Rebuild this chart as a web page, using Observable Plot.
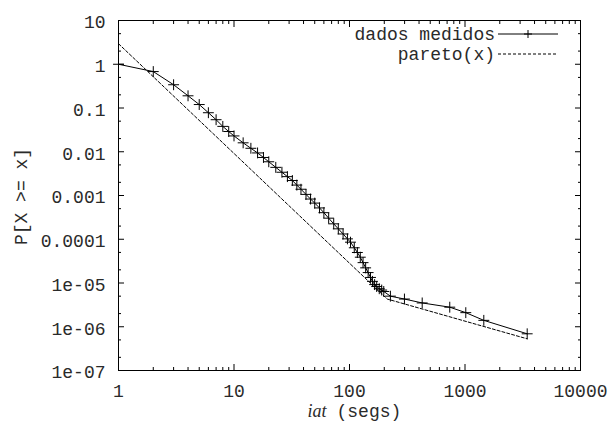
<!DOCTYPE html>
<html><head><meta charset="utf-8">
<script src="https://cdn.jsdelivr.net/npm/d3@7"></script>
<script src="https://cdn.jsdelivr.net/npm/@observablehq/plot@0.6"></script>
<style>body{margin:0;background:#fff} #chart{width:608px;height:427px}</style>
</head><body><div id="chart"></div>
<script>
// ---- data ----
const measuredX = [1,2,3,4,5,6,7,8,9,10,12,14,16,18,20,23,26,29,32,35,38,42,46,50,55,60,66,73,80,88,96,102,110,117,124,131,138,145,152,158,165,172,181,190,198,226,299,426,738,1016,1455,3455];
const measuredY = [1.0,0.68,0.34,0.19,0.12,0.078,0.054,0.038,0.029,0.023,0.016,0.012,0.0094,0.0074,0.0059,0.0044,0.0034,0.0027,0.0022,0.00173,0.00139,0.00106,0.00083,0.00067,0.00052,0.000405,0.000303,0.000225,0.000173,0.000132,0.000102,0.0000857,0.0000638,0.0000498,0.0000389,0.0000292,0.0000222,0.0000173,0.0000134,0.0000109,0.0000092,0.0000083,0.0000074,0.0000069,0.0000064,0.0000050,0.0000043,0.0000035,0.0000028,0.0000021,0.0000014,0.00000069];
const paretoX = [1, 212, 3455];
const paretoY = [2.95, 0.0000043, 0.00000053];
const seriesNames = ["dados medidos", "pareto(x)"];
const xTicks = [1, 10, 100, 1000, 10000];
const xTickLabels = ["1", "10", "100", "1000", "10000"];
const yTicks = [1e-7, 1e-6, 1e-5, 1e-4, 1e-3, 1e-2, 1e-1, 1, 10];
const yTickLabels = ["1e-07", "1e-06", "1e-05", "0.0001", "0.001", "0.01", "0.1", "1", "10"];
const xLabelItalic = "iat";
const xLabelRest = "(segs)";
const yLabel = "P[X >= x]";

// ---- derived tables ----
const measured = measuredX.map((x, i) => ({x, y: measuredY[i]}));
const pareto = paretoX.map((x, i) => ({x, y: paretoY[i]}));
const xLabelMap = new Map(xTicks.map((t, i) => [t, xTickLabels[i]]));
const yLabelMap = new Map(yTicks.map((t, i) => [t, yTickLabels[i]]));
const xMinor = [];
for (let e = 0; e < 4; e++) for (let m = 2; m <= 9; m++) xMinor.push(m * Math.pow(10, e));
const yMinor = [];
for (let e = -7; e < 1; e++) for (const m of [2, 5]) yMinor.push(m * Math.pow(10, e));

const W = 608, H = 427, mL = 118, mR = 28, mT = 20, mB = 57;
const mono = "'Liberation Mono', 'Courier New', monospace";
const MAJ = 6, MIN = 3;
const blank = () => "";
const textColor = "#2a2a2a";

const inTicksX = (ticks, size) => [
  Plot.axisX({ticks, anchor: "bottom", tickSize: size, dy: -size, tickFormat: blank, label: null}),
  Plot.axisX({ticks, anchor: "top", tickSize: size, dy: size, tickFormat: blank, label: null})
];
const inTicksY = (ticks, size) => [
  Plot.axisY({ticks, anchor: "left", tickSize: size, dx: size, tickFormat: blank, label: null}),
  Plot.axisY({ticks, anchor: "right", tickSize: size, dx: -size, tickFormat: blank, label: null})
];

const plot = Plot.plot({
  width: W, height: H,
  marginLeft: mL, marginRight: mR, marginTop: mT, marginBottom: mB,
  style: {fontFamily: mono, fontSize: "18px", background: "white", color: "black"},
  x: {type: "log", domain: [1, 10000]},
  y: {type: "log", domain: [1e-7, 10]},
  marks: [
    ...inTicksX(xTicks, MAJ),
    ...inTicksX(xMinor, MIN),
    ...inTicksY(yTicks, MAJ),
    ...inTicksY(yMinor, MIN),
    Plot.axisX({ticks: xTicks, anchor: "bottom", tickSize: 0, tickPadding: 14, tickFormat: d => xLabelMap.get(d), label: null, fill: textColor}),
    Plot.axisY({ticks: yTicks, anchor: "left", tickSize: 0, tickPadding: 13, dy: 2, tickFormat: d => yLabelMap.get(d), label: null, fill: textColor}),
    Plot.line(pareto, {x: "x", y: "y", stroke: "black", strokeWidth: 1, strokeDasharray: "3,2"}),
    Plot.line(measured, {x: "x", y: "y", stroke: "black", strokeWidth: 1}),
    Plot.dot(measured, {x: "x", y: "y", symbol: "plus", r: 3.6, stroke: "black", strokeWidth: 1}),
    Plot.text([xLabelItalic], {frameAnchor: "bottom", dx: -23, dy: 41, textAnchor: "end", lineAnchor: "middle", fontFamily: "'Liberation Serif', serif", fontStyle: "italic", fill: textColor}),
    Plot.text([xLabelRest], {frameAnchor: "bottom", dx: -13, dy: 41, textAnchor: "start", lineAnchor: "middle", fill: textColor}),
    Plot.text([yLabel], {frameAnchor: "left", dx: -97, dy: 1, rotate: -90, textAnchor: "middle", lineAnchor: "middle", fill: textColor}),
    Plot.frame({stroke: "black"})
  ]
});

// ---- legend (inside top-right) ----
const svg = d3.select(plot);
const lg = svg.append("g").attr("font-family", mono).attr("font-size", 18);
const rows = [
  {name: seriesNames[0], y: 34, dash: null, marker: true},
  {name: seriesNames[1], y: 54, dash: "3,2", marker: false}
];
const textRight = 495, lineX1 = 498, lineX2 = 558;
rows.forEach(r => {
  lg.append("text").attr("x", textRight).attr("y", r.y).attr("dy", "0.32em")
    .attr("text-anchor", "end").attr("fill", textColor).text(r.name);
  lg.append("line").attr("x1", lineX1).attr("x2", lineX2).attr("y1", r.y).attr("y2", r.y)
    .attr("stroke", "black").attr("stroke-width", 1).attr("stroke-dasharray", r.dash);
  if (r.marker) {
    const cx = (lineX1 + lineX2) / 2;
    lg.append("path").attr("d", `M${cx - 4},${r.y}h8M${cx},${r.y - 4}v8`)
      .attr("stroke", "black").attr("fill", "none");
  }
});

document.getElementById("chart").appendChild(plot);
</script>
</body></html>
